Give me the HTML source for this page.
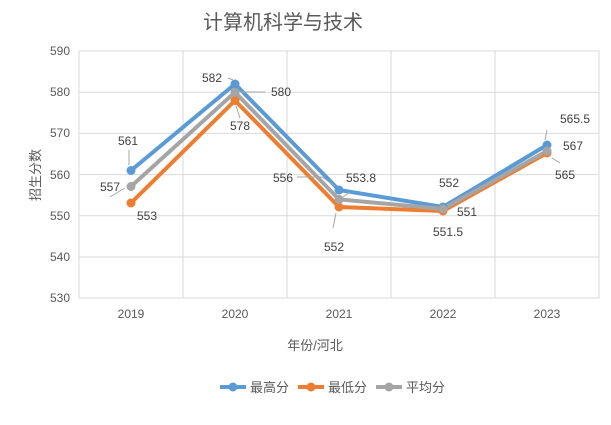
<!DOCTYPE html><html><head><style>body{margin:0;background:#fff}svg text{font-family:"Liberation Sans","Noto Sans CJK SC",sans-serif}</style></head><body>
<svg width="611" height="420" xmlns="http://www.w3.org/2000/svg">
<text x="283" y="29" font-size="20" fill="#595959" text-anchor="middle">计算机科学与技术</text>
<g stroke="#d9d9d9" stroke-width="1">
<line x1="79" y1="51" x2="599" y2="51"/><line x1="79" y1="92.2" x2="599" y2="92.2"/><line x1="79" y1="133.4" x2="599" y2="133.4"/><line x1="79" y1="174.6" x2="599" y2="174.6"/><line x1="79" y1="215.8" x2="599" y2="215.8"/><line x1="79" y1="257" x2="599" y2="257"/><line x1="79" y1="298" x2="599" y2="298"/>
<line x1="79" y1="51" x2="79" y2="298"/><line x1="183" y1="51" x2="183" y2="298"/><line x1="287" y1="51" x2="287" y2="298"/><line x1="391" y1="51" x2="391" y2="298"/><line x1="495" y1="51" x2="495" y2="298"/><line x1="599" y1="51" x2="599" y2="298"/>
</g>
<g font-size="12" fill="#595959" text-anchor="end">
<text x="70" y="55">590</text><text x="70" y="96">580</text><text x="70" y="137">570</text><text x="70" y="179">560</text><text x="70" y="220">550</text><text x="70" y="261">540</text><text x="70" y="302">530</text></g>
<g font-size="12" fill="#595959" text-anchor="middle">
<text x="131" y="318">2019</text><text x="235" y="318">2020</text><text x="339" y="318">2021</text><text x="443" y="318">2022</text><text x="547" y="318">2023</text>
<text x="315" y="350" font-size="13">年份/河北</text></g>
<text transform="translate(40,175) rotate(-90)" font-size="13" fill="#595959" text-anchor="middle">招生分数</text>
<g fill="none" stroke-width="4" stroke-linejoin="round">
<polyline stroke="#5b9bd5" points="131,170.5 235,84 339,190 443,207 547,145"/>
<polyline stroke="#ed7d31" points="131,203 235,100.5 339,207 443,211 547,153"/>
<polyline stroke="#a5a5a5" points="131,186.5 235,92.2 339,199.4 443,209 547,151"/>
</g>
<g fill="#5b9bd5"><circle cx="131" cy="170.5" r="4.5"/><circle cx="235" cy="84" r="4.5"/><circle cx="339" cy="190" r="4.5"/><circle cx="443" cy="207" r="4.5"/><circle cx="547" cy="145" r="4.5"/></g>
<g fill="#ed7d31"><circle cx="131" cy="203" r="4.5"/><circle cx="235" cy="100.5" r="4.5"/><circle cx="339" cy="207" r="4.5"/><circle cx="443" cy="211" r="4.5"/><circle cx="547" cy="153" r="4.5"/></g>
<g fill="#a5a5a5"><circle cx="131" cy="186.5" r="4.5"/><circle cx="235" cy="92.2" r="4.5"/><circle cx="339" cy="199.4" r="4.5"/><circle cx="443" cy="209" r="4.5"/><circle cx="547" cy="151" r="4.5"/></g>
<g stroke="#a5a5a5" fill="none" stroke-width="1">
<polyline points="129,150 129,165"/><polyline points="110,197 125,188"/><polyline points="228,78 233,80"/><polyline points="240,92 265,92"/><polyline points="236,106 240,118"/><polyline points="297,177 322,177 335,186"/><polyline points="343,197 350,192"/><polyline points="336,213 333,228"/><polyline points="547,130 545,140"/><polyline points="552,158 560,163"/>
</g>
<g font-size="12" fill="#404040" text-anchor="middle">
<text x="128" y="145">561</text><text x="110" y="191">557</text><text x="147" y="220">553</text>
<text x="212" y="82">582</text><text x="281" y="96">580</text><text x="240" y="130">578</text>
<text x="283" y="182">556</text><text x="361" y="182">553.8</text><text x="334" y="251">552</text>
<text x="449" y="187">552</text><text x="467" y="216">551</text><text x="448" y="236">551.5</text>
<text x="575" y="123">565.5</text><text x="573" y="150">567</text><text x="565" y="179">565</text>
</g>
<g font-size="13" fill="#595959">
<line x1="220" y1="387" x2="246" y2="387" stroke="#5b9bd5" stroke-width="4"/><circle cx="233" cy="387" r="4.5" fill="#5b9bd5"/><text x="250" y="392">最高分</text>
<line x1="298" y1="387" x2="324" y2="387" stroke="#ed7d31" stroke-width="4"/><circle cx="311" cy="387" r="4.5" fill="#ed7d31"/><text x="328" y="392">最低分</text>
<line x1="376" y1="387" x2="402" y2="387" stroke="#a5a5a5" stroke-width="4"/><circle cx="389" cy="387" r="4.5" fill="#a5a5a5"/><text x="406" y="392">平均分</text>
</g>
</svg></body></html>
